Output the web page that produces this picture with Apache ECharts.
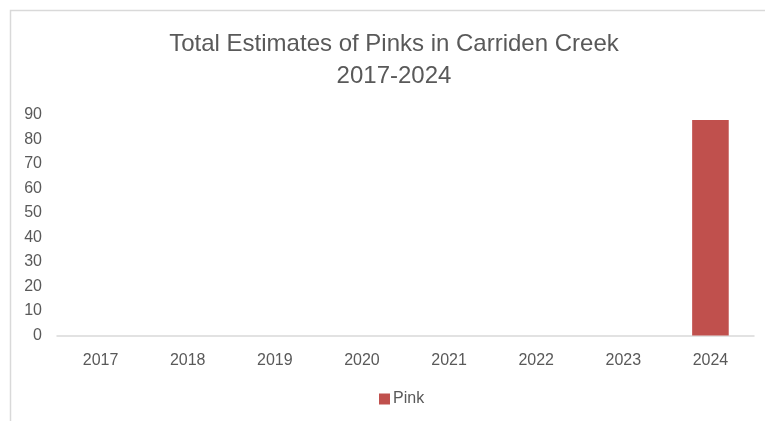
<!DOCTYPE html>
<html>
<head>
<meta charset="utf-8">
<script src="https://cdn.jsdelivr.net/npm/echarts@6/dist/echarts.min.js"></script>
<style>
  html, body { margin: 0; padding: 0; background: #ffffff; }
  #chart { width: 765px; height: 421px; }
</style>
</head>
<body>
<div id="chart"></div>
<script>
// Survey years and Pink salmon totals for Carriden Creek
const years = ['2017', '2018', '2019', '2020', '2021', '2022', '2023', '2024'];
const pinkTotals = [0, 0, 0, 0, 0, 0, 0, 88];
const seriesName = 'Pink';
const titleLines = ['Total Estimates of Pinks in Carriden Creek', '2017-2024'];
const yTicks = { min: 0, max: 90, step: 10 };

const font = '"Liberation Sans", Arial, sans-serif';
const textGrey = '#595959';

const chart = echarts.init(document.getElementById('chart'), null, { renderer: 'canvas' });

chart.setOption({
  backgroundColor: '#ffffff',
  animation: false,
  graphic: [
    {
      type: 'rect',
      silent: true,
      shape: { x: 10.5, y: 10.5, width: 800, height: 500 },
      style: { fill: 'none', stroke: '#d9d9d9', lineWidth: 1.5 }
    },
    {
      type: 'text',
      silent: true,
      x: 394,
      y: 28,
      style: {
        text: titleLines.join('\n'),
        fontFamily: font,
        fontSize: 24,
        lineHeight: 32,
        fill: textGrey,
        align: 'center'
      }
    }
  ],
  legend: {
    data: [seriesName],
    left: 374,
    top: 386,
    itemWidth: 11,
    itemHeight: 11,
    itemGap: 10,
    icon: 'rect',
    textStyle: { fontFamily: font, fontSize: 16, color: textGrey, padding: [0, 0, 0, -2] }
  },
  grid: { left: 57, right: 11, top: 115, bottom: 85.5, containLabel: false },
  xAxis: {
    type: 'category',
    data: years,
    axisLine: { show: true, lineStyle: { color: '#d9d9d9', width: 1.5 } },
    axisTick: { show: false },
    splitLine: { show: false },
    axisLabel: { fontFamily: font, fontSize: 16, color: textGrey, margin: 17 }
  },
  yAxis: {
    type: 'value',
    min: yTicks.min,
    max: yTicks.max,
    interval: yTicks.step,
    axisLine: { show: false },
    axisTick: { show: false },
    splitLine: { show: false },
    axisLabel: { fontFamily: font, fontSize: 16, color: textGrey, margin: 15, padding: [3, 0, 0, 0] }
  },
  series: [
    {
      name: seriesName,
      type: 'bar',
      data: pinkTotals,
      barWidth: '42%',
      itemStyle: { color: '#c0504d' }
    }
  ]
});
</script>
</body>
</html>
